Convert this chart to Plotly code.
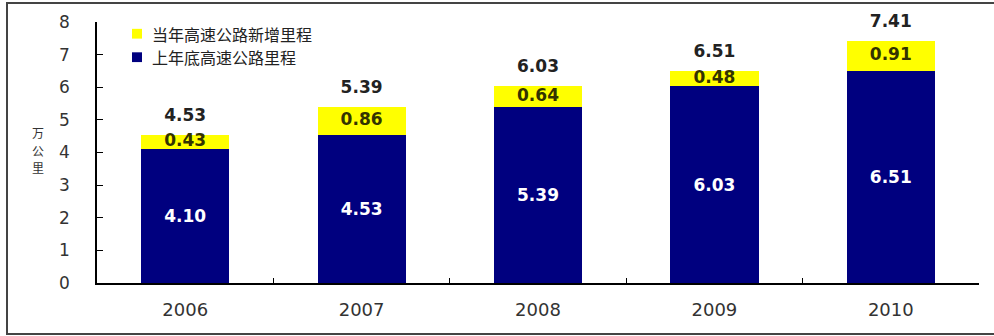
import plotly.graph_objects as go

years = ["2006", "2007", "2008", "2009", "2010"]
base_km = [4.10, 4.53, 5.39, 6.03, 6.51]      # 上年底高速公路里程
new_km = [0.43, 0.86, 0.64, 0.48, 0.91]       # 当年高速公路新增里程
total_km = [4.53, 5.39, 6.03, 6.51, 7.41]
y_ticks = [0, 1, 2, 3, 4, 5, 6, 7, 8]
series_names = ["当年高速公路新增里程", "上年底高速公路里程"]
series_colors = ["#ffff00", "#00007f"]
y_title_chars = ["万", "公", "里"]

NUM_FONT = "DejaVu Sans, Liberation Sans, Arial"
CJK_FONT = "Noto Sans CJK SC, DejaVu Sans"

W, H = 994, 336
ML, MR, MT, MB = 97, 15, 16, 53
PW, PH = W - ML - MR, H - MT - MB


def px_x(px):
    return (px - ML) / PW


def px_y(py):
    return (H - MB - py) / PH


fig = go.Figure()
fig.add_trace(go.Bar(
    x=years, y=base_km, name=series_names[1],
    marker=dict(color=series_colors[1], line=dict(width=0)),
    text=[f"{v:.2f}" for v in base_km], textposition="inside",
    insidetextanchor="middle",
    textfont=dict(family=NUM_FONT, size=17, color="white", weight="bold"),
    hoverinfo="skip", showlegend=False,
))
fig.add_trace(go.Bar(
    x=years, y=new_km, name=series_names[0],
    marker=dict(color=series_colors[0], line=dict(width=0)),
    textposition="none", hoverinfo="skip", showlegend=False,
))
# labels for the yellow segments, centred on each segment
fig.add_trace(go.Scatter(
    x=years, y=[b + n / 2 for b, n in zip(base_km, new_km)],
    mode="text", text=[f"{v:.2f}" for v in new_km], textposition="middle center",
    textfont=dict(family=NUM_FONT, size=17, color="#333300", weight="bold"),
    showlegend=False, hoverinfo="skip", cliponaxis=False,
))
# totals above bars (invisible marker pushes the text upward)
fig.add_trace(go.Scatter(
    x=years, y=total_km,
    mode="text+markers", marker=dict(size=14, opacity=0),
    text=[f"{v:.2f}" for v in total_km], textposition="top center",
    textfont=dict(family=NUM_FONT, size=17, color="#222222", weight="bold"),
    showlegend=False, hoverinfo="skip", cliponaxis=False,
))

annotations = []
for i, ch in enumerate(y_title_chars):
    annotations.append(dict(
        text=ch, xref="paper", yref="paper", x=px_x(38), y=px_y(129 + 18 * i),
        xanchor="center", yanchor="middle", showarrow=False,
        font=dict(family=CJK_FONT, size=12, color="#333333"),
    ))
shapes = [dict(
    type="rect", xref="paper", yref="paper",
    xsizemode="pixel", ysizemode="pixel", xanchor=0, yanchor=0,
    x0=7 - ML, x1=1010 - ML, y0=-(334 - (H - MB)), y1=(H - MB) - 3,
    line=dict(color="#444444", width=2), fillcolor="rgba(0,0,0,0)",
)]
# legend (swatch + text), top-left inside the plot
for i, (name, col) in enumerate(zip(series_names, series_colors)):
    cy = 28 + 24 * i
    shapes.append(dict(
        type="rect", xref="paper", yref="paper",
        x0=px_x(132), x1=px_x(142), y0=px_y(cy + 5), y1=px_y(cy - 5),
        line=dict(width=0), fillcolor=col,
    ))
    annotations.append(dict(
        text=name, xref="paper", yref="paper", x=px_x(150), y=px_y(cy),
        xanchor="left", yanchor="middle", showarrow=False,
        font=dict(family=CJK_FONT, size=16, color="#222222"),
    ))

fig.update_layout(
    width=W, height=H,
    margin=dict(l=ML, r=MR, t=MT, b=MB),
    barmode="stack", bargap=0.5,
    plot_bgcolor="white", paper_bgcolor="white",
    showlegend=False,
    xaxis=dict(
        type="category", showline=True, linecolor="black", linewidth=1.5,
        ticks="inside", tickson="boundaries", ticklen=5, tickcolor="black",
        tickfont=dict(family=NUM_FONT, size=18, color="#333333"),
        ticklabelstandoff=10,
        showgrid=False, zeroline=False,
    ),
    yaxis=dict(
        range=[0, 8], tickvals=y_ticks, showline=True, linecolor="black", linewidth=1.5,
        ticks="inside", ticklen=6, tickcolor="black",
        tickfont=dict(family=NUM_FONT, size=17, color="#333333"),
        ticklabelstandoff=22,
        showgrid=False, zeroline=False,
    ),
    annotations=annotations,
    shapes=shapes,
)

fig.write_html("out.html")
